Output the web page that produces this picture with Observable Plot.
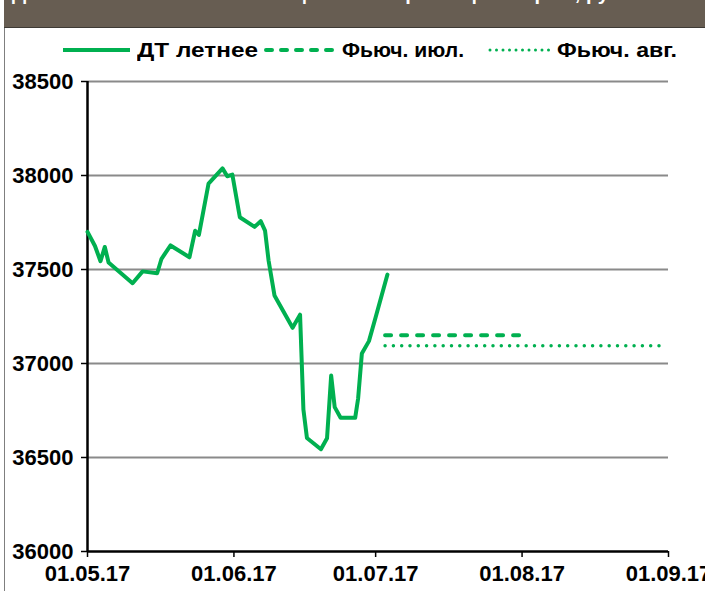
<!DOCTYPE html>
<html>
<head>
<meta charset="utf-8">
<script src="https://cdn.jsdelivr.net/npm/d3@7"></script>
<script src="https://cdn.jsdelivr.net/npm/@observablehq/plot@0.6"></script>
<style>
  html, body { margin: 0; padding: 0; background: #fff; }
  #wrap { position: relative; width: 705px; height: 591px; overflow: hidden; font-family: "Liberation Sans", Arial, sans-serif; }
  #header { position: absolute; left: 4px; top: 0; width: 701px; height: 27px; background: #675d52; border-bottom: 1px solid #3e3a35; overflow: hidden; }
  #header span { position: absolute; left: 8px; top: -17px; font-size: 20px; line-height: 20px; font-weight: bold; color: #fff; white-space: nowrap; }
  #leftborder { position: absolute; left: 4px; top: 0; width: 1px; height: 591px; background: #7f7f7f; }
  #chart { position: absolute; left: 0; top: 0; }
  .leg { position: absolute; top: 40px; font-size: 20px; font-weight: bold; color: #000; white-space: nowrap; line-height: 20px; transform-origin: 0 50%; }
  .sw { position: absolute; top: 40px; }
</style>
</head>
<body>
<div id="wrap">
  <div id="chart"></div>
  <div id="leftborder"></div>
  <div id="header"><span>Дизельное топливо летнее: цены на бирже и фьючерсы, руб./т</span></div>
  <div id="legend"></div>
</div>
<script>
// ---- data ----
const spotDates = [
  "2017-05-01T00:00Z","2017-05-02T14:00Z","2017-05-03T18:00Z","2017-05-04T16:00Z","2017-05-05T11:00Z",
  "2017-05-10T13:00Z","2017-05-12T16:00Z","2017-05-15T18:00Z","2017-05-16T16:00Z","2017-05-18T14:00Z",
  "2017-05-22T14:00Z","2017-05-23T19:00Z","2017-05-24T14:00Z","2017-05-26T15:00Z","2017-05-29T14:00Z",
  "2017-05-30T14:00Z","2017-05-31T16:00Z","2017-06-02T06:00Z","2017-06-05T09:00Z","2017-06-06T16:00Z",
  "2017-06-07T14:00Z","2017-06-08T08:00Z","2017-06-09T14:00Z","2017-06-13T10:00Z","2017-06-15T00:00Z",
  "2017-06-15T17:00Z","2017-06-16T11:00Z","2017-06-19T10:00Z","2017-06-20T17:00Z","2017-06-21T14:00Z",
  "2017-06-22T08:00Z","2017-06-23T14:00Z","2017-06-26T16:00Z","2017-06-27T07:00Z","2017-06-28T02:00Z",
  "2017-06-29T14:00Z","2017-07-01T00:00Z","2017-07-03T12:00Z"
];
const spotValues = [
  37700, 37625, 37544, 37620, 37537,
  37427, 37490, 37480, 37557, 37628,
  37565, 37706, 37684, 37957, 38038,
  37996, 38005, 37778, 37727, 37757,
  37707, 37548, 37362, 37190, 37260,
  36755, 36604, 36544, 36602, 36936,
  36768, 36711, 36711, 36814, 37053,
  37119, 37246, 37473
];
const julDates = ["2017-07-03T00:00Z", "2017-07-31T18:00Z"];
const julValues = [37150, 37150];
const augDates = ["2017-07-03T00:00Z", "2017-08-30T00:00Z"];
const augValues = [37095, 37095];
const yTicks = [36000, 36500, 37000, 37500, 38000, 38500];
const xTickLabels = ["01.05.17", "01.06.17", "01.07.17", "01.08.17", "01.09.17"];
const seriesNames = ["ДТ летнее", "Фьюч. июл.", "Фьюч. авг."];

const green = "#00b050";
const parseLabel = s => { const [d, m, y] = s.split("."); return new Date(Date.UTC(2000 + +y, +m - 1, +d)); };
const xTicks = xTickLabels.map(parseLabel);
const spot = spotDates.map((d, i) => ({date: new Date(d), value: spotValues[i]}));
const jul = julDates.map((d, i) => ({date: new Date(d), value: julValues[i]}));
const aug = augDates.map((d, i) => ({date: new Date(d), value: augValues[i]}));

const chart = Plot.plot({
  width: 705,
  height: 591,
  marginTop: 81,
  marginBottom: 40,
  marginLeft: 87,
  marginRight: 37,
  style: {fontFamily: "'Liberation Sans', Arial, sans-serif", fontSize: "22px", fontWeight: "bold", color: "#000", background: "transparent"},
  x: {type: "utc", domain: [xTicks[0], xTicks[xTicks.length - 1]]},
  y: {domain: [36000, 38500]},
  marks: [
    Plot.ruleY(yTicks.filter(d => d > 36000), {stroke: "#8a8a8a", strokeWidth: 2}),
    Plot.axisY({ticks: yTicks, tickSize: 6, tickPadding: 8, tickFormat: d => String(d), label: null, stroke: "#000", strokeWidth: 1.5}),
    Plot.axisX({ticks: xTicks, tickSize: 6, tickPadding: 8, tickFormat: (d, i) => xTickLabels[i], label: null, stroke: "#000", strokeWidth: 1.5}),
    Plot.ruleX([xTicks[0]], {stroke: "#000", strokeWidth: 2.5}),
    Plot.ruleY([36000], {stroke: "#000", strokeWidth: 2.5}),
    Plot.line(aug, {x: "date", y: "value", stroke: green, strokeWidth: 3.5, strokeDasharray: "0,8.3", strokeLinecap: "round"}),
    Plot.line(jul, {x: "date", y: "value", stroke: green, strokeWidth: 4, strokeDasharray: "6,10", strokeLinecap: "round"}),
    Plot.line(spot, {x: "date", y: "value", stroke: green, strokeWidth: 4, strokeLinejoin: "round"})
  ]
});
document.getElementById("chart").appendChild(chart);

// ---- legend ----
const leg = document.getElementById("legend");
const items = [
  {x1: 63, x2: 130, tx: 137, tw: 121, dash: null, w: 4, name: seriesNames[0]},
  {x1: 266, x2: 335, tx: 342, tw: 122, dash: "6,9", w: 4, name: seriesNames[1]},
  {x1: 490, x2: 550, tx: 557, tw: 120, dash: "0,6.5", w: 3, name: seriesNames[2]}
];
items.forEach(it => {
  const svg = d3.create("svg").attr("class", "sw").attr("width", it.x2 - it.x1 + 6).attr("height", 20)
    .style("left", (it.x1 - 3) + "px");
  svg.append("line").attr("x1", 3).attr("x2", it.x2 - it.x1 + 3).attr("y1", 10).attr("y2", 10)
    .attr("stroke", green).attr("stroke-width", it.w)
    .attr("stroke-linecap", it.dash ? "round" : "butt")
    .attr("stroke-dasharray", it.dash);
  leg.appendChild(svg.node());
  const t = document.createElement("div");
  t.className = "leg";
  t.style.left = it.tx + "px";
  t.textContent = it.name;
  leg.appendChild(t);
  const w = t.getBoundingClientRect().width;
  t.style.transform = `scaleX(${it.tw / w})`;
});
</script>
</body>
</html>
